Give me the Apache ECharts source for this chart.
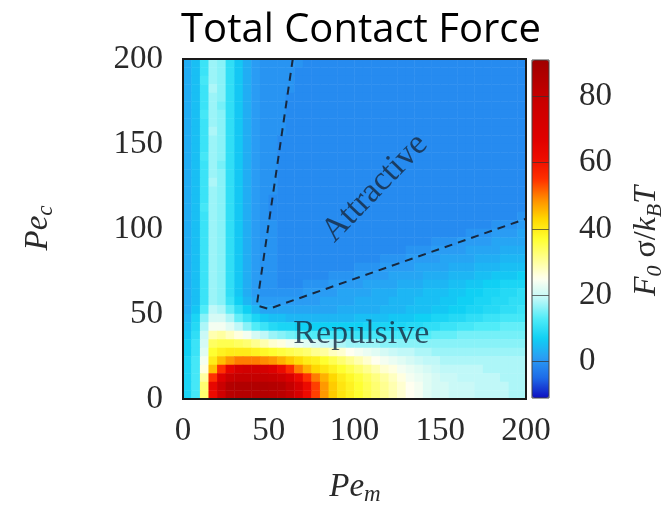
<!DOCTYPE html>
<html>
<head>
<meta charset="utf-8">
<script src="https://cdn.jsdelivr.net/npm/echarts@6/dist/echarts.min.js"></script>
<style>html,body{margin:0;padding:0;background:#fff}#c{width:671px;height:510px}</style>
</head>
<body>
<div id="c"></div>
<script>
// Pe_m bin centres (x) and Pe_c bin centres (y)
const peM = ['2.5','7.5','12.5','17.5','22.5','27.5','32.5','37.5','42.5','47.5',
             '52.5','57.5','62.5','67.5','72.5','77.5','82.5','87.5','92.5','97.5',
             '102.5','107.5','112.5','117.5','122.5','127.5','132.5','137.5','142.5','147.5',
             '152.5','157.5','162.5','167.5','172.5','177.5','182.5','187.5','192.5','197.5'];
const peC = peM.slice();
const colorTicks = [0, 20, 40, 60, 80];

// F0 sigma / kBT, rows from Pe_c = 195-200 (top) down to 0-5 (bottom)
const forceRows = [
 [3,5,11,17,16,10,6,3,1,0,  0,0,0,0,-1,-1,-1,-1,-1,-1,  -1,-1,-1,-1,-1,-1,-1,-1,-1,-1,  -1,-1,-1,-1,-1,-1,-1,-1,-1,-1],
 [3,5,11,17,16,10,6,3,1,0,  0,0,0,-1,-1,-1,-1,-1,-1,-1,  -1,-1,-1,-1,-1,-1,-1,-1,-1,-1,  -1,-1,-1,-1,-1,-1,-1,-1,-1,-1],
 [3,5,12,17,16,10,6,3,1,0,  0,0,0,-1,-1,-1,-1,-1,-1,-1,  -1,-1,-1,-1,-1,-1,-1,-1,-1,-1,  -1,-1,-1,-1,-1,-1,-1,-1,-1,-1],
 [3,5,11,18,16,10,6,3,1,0,  0,0,0,-1,-1,-1,-1,-1,-1,-1,  -1,-1,-1,-1,-1,-1,-1,-1,-1,-1,  -1,-1,-1,-1,-1,-1,-1,-1,-1,-1],
 [3,5,11,17,16,10,6,3,1,0,  0,0,-1,-1,-1,-1,-1,-1,-1,-1,  -1,-1,-1,-1,-1,-1,-1,-1,-1,-1,  -1,-1,-1,-1,-1,-1,-1,-1,-1,-1],
 [3,5,11,17,15,10,6,3,1,0,  0,0,-1,-1,-1,-1,-1,-1,-1,-1,  -1,-1,-1,-1,-1,-1,-1,-1,-1,-1,  -1,-1,-1,-1,-1,-1,-1,-1,-1,-1],
 [3,5,12,17,16,10,6,3,1,0,  0,0,-1,-1,-1,-1,-1,-1,-1,-1,  -1,-1,-1,-1,-1,-1,-1,-1,-1,-1,  -1,-1,-1,-1,-1,-1,-1,-1,-1,-1],
 [3,5,11,17,16,10,6,3,1,0,  0,0,-1,-1,-1,-1,-1,-1,-1,-1,  -1,-1,-1,-1,-1,-1,-1,-1,-1,-1,  -1,-1,-1,-1,-1,-1,-1,-1,-1,-1],
 [3,5,11,18,16,10,6,3,1,0,  0,0,-1,-1,-1,-1,-1,-1,-1,-1,  -1,-1,-1,-1,-1,-1,-1,-1,-1,-1,  -1,-1,-1,-1,-1,-1,-1,-1,-1,-1],
 [3,5,11,17,16,10,6,3,1,0,  0,-1,-1,-1,-1,-1,-1,-1,-1,-1,  -1,-1,-1,-1,-1,-1,-1,-1,-1,-1,  -1,-1,-1,-1,-1,-1,-1,-1,-1,-1],
 [3,5,11,17,16,10,6,3,1,0,  0,-1,-1,-1,-1,-1,-1,-1,-1,-1,  -1,-1,-1,-1,-1,-1,-1,-1,-1,-1,  -1,-1,-1,-1,-1,-1,-1,-1,-1,-1],
 [3,5,12,17,16,10,6,3,1,0,  0,-1,-1,-1,-1,-1,-1,-1,-1,-1,  -1,-1,-1,-1,-1,-1,-1,-1,-1,-1,  -1,-1,-1,-1,-1,-1,-1,-1,-1,-1],
 [3,5,11,17,15,10,6,3,1,0,  0,-1,-1,-1,-1,-1,-1,-1,-1,-1,  -1,-1,-1,-1,-1,-1,-1,-1,-1,-1,  -1,-1,-1,-1,-1,-1,-1,-1,-1,-1],
 [3,5,11,17,16,10,6,3,1,0,  0,-1,-1,-1,-1,-1,-1,-1,-1,-1,  -1,-1,-1,-1,-1,-1,-1,-1,-1,-1,  -1,-1,-1,-1,-1,-1,-1,-1,-1,-1],
 [3,5,11,18,16,10,6,3,1,0,  0,-1,-1,-1,-1,-1,-1,-1,-1,-1,  -1,-1,-1,-1,-1,-1,-1,-1,-1,-1,  -1,-1,-1,-1,-1,-1,-1,-1,-1,-1],
 [3,5,11,17,16,10,6,3,1,0,  0,-1,-1,-1,-1,-1,-1,-1,-1,-1,  -1,-1,-1,-1,-1,-1,-1,-1,-1,-1,  -1,-1,-1,-1,-1,-1,-1,-1,-1,-1],
 [3,5,11,17,16,10,6,3,1,0,  -1,-1,-1,-1,-1,-1,-1,-1,-1,-1,  -1,-1,-1,-1,-1,-1,-1,-1,-1,-1,  -1,-1,-1,-1,-1,-1,-1,-1,-1,-1],
 [3,5,12,17,16,10,6,3,1,0,  -1,-1,-1,-1,-1,-1,-1,-1,-1,-1,  -1,-1,-1,-1,-1,-1,-1,-1,-1,-1,  -1,-1,-1,-1,-1,-1,-1,-1,-1,-1],
 [3,5,11,17,16,10,6,3,1,0,  -1,-1,-1,-1,-1,-1,-1,-1,-1,-1,  -1,-1,-1,-1,-1,-1,-1,-1,-1,-1,  -1,-1,-1,-1,-1,-1,-1,-1,-1,0],
 [3,5,11,17,16,10,6,3,1,0,  0,-1,-1,-1,-1,-1,-1,-1,-1,-1,  -1,-1,-1,-1,-1,-1,-1,-1,-1,-1,  -1,-1,-1,-1,-1,-1,0,0,0,1],
 [3,5,11,17,16,10,6,3,1,0,  0,-1,-1,-1,-1,-1,-1,-1,-1,-1,  -1,-1,-1,-1,-1,-1,-1,-1,-1,-1,  -1,-1,-1,0,0,0,1,1,1,2],
 [3,5,11,17,16,10,6,3,1,0,  0,-1,-1,-1,-1,-1,-1,-1,-1,-1,  -1,-1,-1,-1,-1,-1,-1,-1,-1,0,  0,0,1,1,1,1,2,2,2,2],
 [3,5,11,17,16,10,6,3,1,0,  0,-1,-1,-1,-1,-1,-1,-1,-1,-1,  -1,-1,-1,-1,-1,-1,0,0,0,1,  1,1,1,2,2,2,2,3,3,3],
 [3,5,11,17,16,10,6,3,1,0,  0,-1,-1,-1,-1,-1,-1,-1,-1,-1,  -1,-1,-1,0,0,0,1,1,1,1,  2,2,2,2,3,3,3,4,4,4],
 [3,5,11,17,16,10,6,3,1,0,  0,-1,-1,-1,-1,-1,-1,-1,-1,-1,  0,0,0,1,1,1,1,2,2,2,  2,3,3,3,4,4,4,5,5,5],
 [3,5,11,17,16,10,6,3,1,0,  0,-1,-1,-1,-1,-1,-1,0,0,0,  1,1,1,1,2,2,2,2,3,3,  3,4,4,4,5,5,6,6,6,7],
 [3,5,11,17,16,10,6,3,1,0,  0,-1,-1,-1,0,0,0,1,1,1,  1,2,2,2,2,3,3,3,4,4,  4,5,5,6,6,7,7,8,8,8],
 [3,5,11,17,16,10,6,3,1,0,  0,0,0,0,1,1,1,1,2,2,  2,2,3,3,3,4,4,4,5,5,  5,6,6,7,7,8,8,9,9,10],
 [3,5,11,17,16,11,7,4,2,1,  1,1,1,1,1,1,2,2,2,2,  3,3,3,3,4,4,4,5,5,5,  6,6,7,7,8,8,9,9,10,10],
 [3,6,13,19,18,14,10,7,4,2,  2,2,2,2,2,2,2,2,3,3,  3,3,3,4,4,4,5,5,5,6,  6,7,7,8,8,9,9,10,10,11],
 [4,8,16,21,21,18,14,11,8,6,  5,5,4,4,4,4,4,4,4,4,  5,5,5,5,6,6,6,7,7,8,  8,9,9,10,10,11,11,12,12,12],
 [5,9,18,24,24,22,19,16,13,11,  9,8,8,7,7,7,7,7,7,7,  7,8,8,8,8,8,9,9,10,10,  11,11,12,12,13,13,13,14,14,14],
 [6,10,20,29,30,28,26,24,21,19,  17,16,15,14,13,13,12,12,11,11,  11,11,12,12,12,12,13,13,13,14,  14,14,15,15,15,15,15,15,15,15],
 [7,11,21,34,35,35,34,33,31,29,  27,26,24,23,22,21,20,19,18,17,  17,17,17,16,16,16,16,16,16,16,  16,16,16,16,16,16,16,16,16,16],
 [7,11,22,37,39,40,40,40,39,38,  37,36,35,34,33,31,30,28,27,25,  24,23,22,21,20,19,19,18,18,17,  17,17,17,17,17,17,17,17,17,17],
 [8,12,24,40,45,48,50,50,50,49,  48,46,44,42,40,39,37,35,33,31,  29,27,25,24,23,22,21,20,19,19,  18,18,18,18,18,18,18,18,18,18],
 [8,12,26,45,55,65,72,74,74,72,  68,62,56,50,46,43,41,39,37,35,  33,31,29,27,26,24,23,22,21,20,  19,19,19,19,19,18,18,18,18,18],
 [8,12,30,55,68,78,80,80,80,80,  79,76,70,62,55,50,46,43,40,38,  36,34,32,30,28,26,24,23,22,21,  20,20,19,19,19,19,19,18,18,18],
 [8,12,33,64,78,85,86,86,86,86,  85,84,80,72,62,54,48,44,41,39,  37,35,33,31,29,27,25,24,22,21,  21,20,20,20,19,19,19,19,18,18],
 [8,12,33,62,76,84,85,85,85,85,  84,83,80,72,62,54,48,44,41,39,  37,35,33,31,29,27,25,24,22,21,  21,20,20,20,19,19,19,19,18,18]
];

// Dashed phase boundary (Pe_m, Pe_c)
const boundaryLine = [[64, 200], [43, 55], [50, 53], [200, 106]];
// Region labels (Pe_m, Pe_c)
const regionLabels = [
  {name: 'Attractive', at: [112, 124], angle: 46},
  {name: 'Repulsive', at: [104, 38], angle: 0}
];

const heatData = [];
forceRows.forEach((row, r) => {
  const yi = forceRows.length - 1 - r;
  row.forEach((v, xi) => heatData.push([xi, yi, v]));
});

const serif = 'Liberation Serif';
const chart = echarts.init(document.getElementById('c'), null, {renderer: 'canvas'});
chart.setOption({
  animation: false,
  backgroundColor: '#ffffff',
  grid: [
    {left: 183, top: 59, width: 343, height: 340},
    {left: 532, top: 60, width: 17, height: 338}
  ],
  xAxis: [
    {type: 'category', data: peM, gridIndex: 0, show: false, position: 'top'},
    {type: 'value', gridIndex: 0, min: 0, max: 200, interval: 50, position: 'bottom',
     axisLine: {show: false}, axisTick: {show: false}, splitLine: {show: false},
     axisLabel: {fontFamily: serif, fontSize: 33, color: '#2a2a2a', margin: 16}},
    {type: 'value', gridIndex: 1, min: 0, max: 1, show: false}
  ],
  yAxis: [
    {type: 'category', data: peC, gridIndex: 0, show: false, position: 'right'},
    {type: 'value', gridIndex: 0, min: 0, max: 200, interval: 50, position: 'left',
     axisLine: {show: false}, axisTick: {show: false}, splitLine: {show: false},
     axisLabel: {fontFamily: serif, fontSize: 33, color: '#2a2a2a', margin: 20}},
    {type: 'value', gridIndex: 1, min: -11, max: 91, position: 'right', z: 10,
     axisLine: {show: false},
     axisTick: {show: false, customValues: colorTicks},
     splitLine: {show: true, lineStyle: {color: '#333', width: 1, opacity: 0.7}},
     axisLabel: {customValues: colorTicks, fontFamily: serif, fontSize: 33, color: '#2a2a2a', margin: 30}}
  ],
  visualMap: {
    type: 'continuous', min: -11, max: 91, seriesIndex: 0, z: 1,
    left: 532, top: 60, itemWidth: 17, itemHeight: 338, padding: 0,
    calculable: false, hoverLink: false, text: null,
    inRange: {color: ['#1010c0','#1e6ae8','#2a9cf4','#10d0f4','#50ecf8','#c0f8f8',
                      '#fffff0','#ffff90','#ffff30','#ffd800','#ff8c00','#ff3000',
                      '#ee0c00','#e00000','#d40000','#c80000','#b40000','#a00000']}
  },
  series: [
    {type: 'heatmap', xAxisIndex: 0, yAxisIndex: 0, data: heatData, itemStyle: {borderWidth: 0}},
    {type: 'line', xAxisIndex: 1, yAxisIndex: 1, data: boundaryLine, symbol: 'none', z: 5,
     lineStyle: {type: [8, 6], color: '#18283e', width: 2}},
    {type: 'scatter', xAxisIndex: 1, yAxisIndex: 1, symbolSize: 0, z: 6,
     data: regionLabels.map(d => ({value: d.at, label: {formatter: d.name, rotate: d.angle}})),
     label: {show: true, position: 'inside', fontFamily: serif, fontSize: 34, color: '#16283e'}}
  ],
  graphic: [
    {type: 'rect', z: 100, shape: {x: 183, y: 59, width: 343, height: 340},
     style: {fill: 'none', stroke: '#1a1a1a', lineWidth: 2}},
    {type: 'rect', z: 100, shape: {x: 532, y: 60, width: 17, height: 338},
     style: {fill: 'none', stroke: '#444', lineWidth: 1}},
    {type: 'text', z: 100, x: 361, y: 31,
     style: {text: 'Total Contact Force', fontFamily: 'Open Sans', fontSize: 40, fill: '#000', align: 'center', verticalAlign: 'middle'}},
    {type: 'text', z: 100, x: 38, y: 228, rotation: Math.PI / 2,
     style: {text: '{i|Pe}{s|c}', align: 'center', verticalAlign: 'middle',
             rich: {i: {fontFamily: serif, fontStyle: 'italic', fontSize: 33, fill: '#2a2a2a', lineHeight: 33},
                    s: {fontFamily: serif, fontStyle: 'italic', fontSize: 23, fill: '#2a2a2a', lineHeight: 23, padding: [16, 0, 0, 0]}}}},
    {type: 'text', z: 100, x: 355, y: 487,
     style: {text: '{i|Pe}{s|m}', align: 'center', verticalAlign: 'middle',
             rich: {i: {fontFamily: serif, fontStyle: 'italic', fontSize: 33, fill: '#2a2a2a', lineHeight: 33},
                    s: {fontFamily: serif, fontStyle: 'italic', fontSize: 23, fill: '#2a2a2a', lineHeight: 23, padding: [16, 0, 0, 0]}}}},
    {type: 'text', z: 100, x: 647, y: 241, rotation: Math.PI / 2,
     style: {text: '{i|F}{s|0}{n| σ/}{i|k}{s|B}{i|T}', align: 'center', verticalAlign: 'middle',
             rich: {i: {fontFamily: serif, fontStyle: 'italic', fontSize: 32, fill: '#2a2a2a', lineHeight: 32},
                    n: {fontFamily: serif, fontSize: 32, fill: '#2a2a2a', lineHeight: 32},
                    s: {fontFamily: serif, fontStyle: 'italic', fontSize: 22, fill: '#2a2a2a', lineHeight: 22, padding: [16, 0, 0, 0]}}}}
  ]
});
</script>
</body>
</html>
